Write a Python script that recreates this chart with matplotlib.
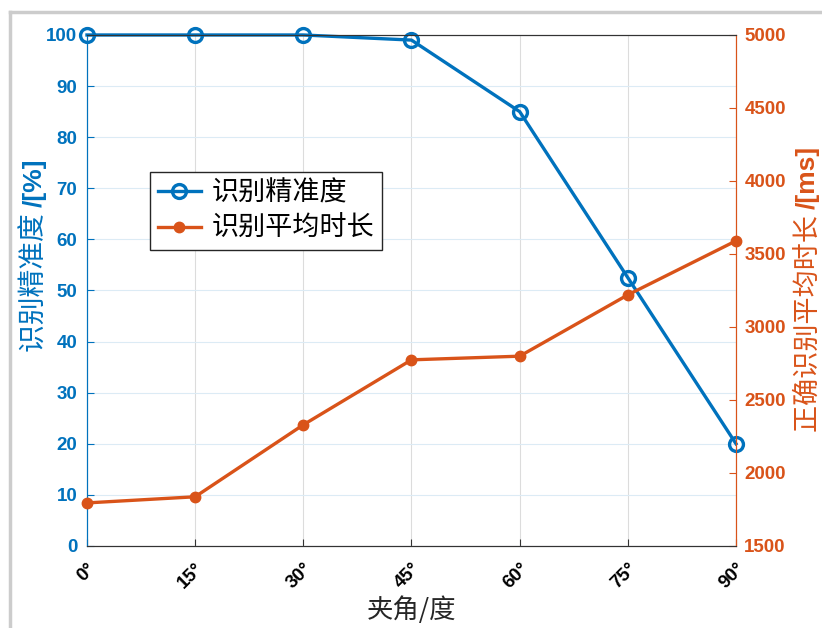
import matplotlib.pyplot as plt
from matplotlib.lines import Line2D

plt.rcParams['font.family'] = ['Noto Sans CJK SC', 'DejaVu Sans']

angles = [0, 15, 30, 45, 60, 75, 90]
angle_labels = ['0°', '15°', '30°', '45°', '60°', '75°', '90°']
accuracy = [100, 100, 100, 99, 85, 52.5, 20]
avg_time = [1795, 1837, 2330, 2775, 2800, 3220, 3590]

blue = '#0072BD'
orange = '#D95319'
tick_font = dict(family='Liberation Sans', weight='bold', size=13.5)

fig = plt.figure(figsize=(8.22, 6.28), dpi=100)
ax = fig.add_axes([0.1058, 0.1306, 0.7896, 0.8137])
ax2 = ax.twinx()

l1, = ax.plot(angles, accuracy, color=blue, lw=2.4, marker='o', ms=10,
              mfc='none', mew=2.4, clip_on=False, zorder=5)
l2, = ax2.plot(angles, avg_time, color=orange, lw=2.4, marker='o', ms=7.5,
               mfc=orange, clip_on=False, zorder=5)

ax.set_xlim(0, 90)
ax.set_ylim(0, 100)
ax2.set_ylim(1500, 5000)
ax.set_xticks(angles)
ax.set_xticklabels(angle_labels, rotation=45, ha='right', va='top',
                   rotation_mode='anchor', fontdict=tick_font, color='black')
ax.set_yticks(range(0, 101, 10))
ax.set_yticklabels([str(v) for v in range(0, 101, 10)], fontdict=tick_font, color=blue)
ax2.set_yticks(range(1500, 5001, 500))
ax2.set_yticklabels([str(v) for v in range(1500, 5001, 500)], fontdict=tick_font, color=orange)

ax.tick_params(axis='x', direction='in', length=5, color='#333333', pad=10)
ax.tick_params(axis='y', direction='in', length=5, color=blue, pad=7)
ax2.tick_params(axis='y', direction='in', length=5, color=orange, pad=6)

ax.grid(True, axis='x', color='#dcdcdc', lw=0.8)
ax.grid(True, axis='y', color='#dcebf5', lw=0.8)
ax.set_axisbelow(True)

for a in (ax, ax2):
    a.spines['top'].set_color('#333333')
    a.spines['bottom'].set_color('#333333')
    a.spines['left'].set_color(blue)
    a.spines['right'].set_color(orange)

ax.set_xlabel('夹角/度', color='#262626', fontsize=19, labelpad=3)

leg = ax.legend([l1, l2], ['识别精准度', '识别平均时长'], loc='upper left',
                bbox_to_anchor=(0.097, 0.732), borderaxespad=0, fontsize=19.5,
                fancybox=False, edgecolor='#262626', framealpha=1,
                handlelength=1.6, handletextpad=0.4, borderpad=0.28,
                labelspacing=0.32)
leg.get_frame().set_linewidth(1.0)
leg.set_zorder(10)

# y labels: Chinese part regular, unit part bold
W, H = 822, 628
left_cn = fig.text(35 / W, 1 - 352 / H, '识别精准度 ', rotation=90, ha='center',
                   va='bottom', color=blue, fontsize=20)
right_cn = fig.text(808 / W, 1 - 432 / H, '正确识别平均时长 ', rotation=90, ha='center',
                    va='bottom', color=orange, fontsize=19.5)
fig.canvas.draw()
r = fig.canvas.get_renderer()
bb = left_cn.get_window_extent(r)
fig.text(35 / W, bb.y1 / (H), '/[%]', rotation=90, ha='center', va='bottom',
         color=blue, fontsize=19, family='Liberation Sans', weight='bold')
bb = right_cn.get_window_extent(r)
fig.text(808 / W, bb.y1 / (H), '/[ms]', rotation=90, ha='center', va='bottom',
         color=orange, fontsize=19, family='Liberation Sans', weight='bold')

# gray outer frame like the screenshot border
fig.add_artist(Line2D([10 / W, 10 / W], [0, 1 - 12 / H], color='#cccccc', lw=2.5))
fig.add_artist(Line2D([10 / W, 1], [1 - 12 / H, 1 - 12 / H], color='#cccccc', lw=2.5))

fig.savefig('out.png', dpi=100)
